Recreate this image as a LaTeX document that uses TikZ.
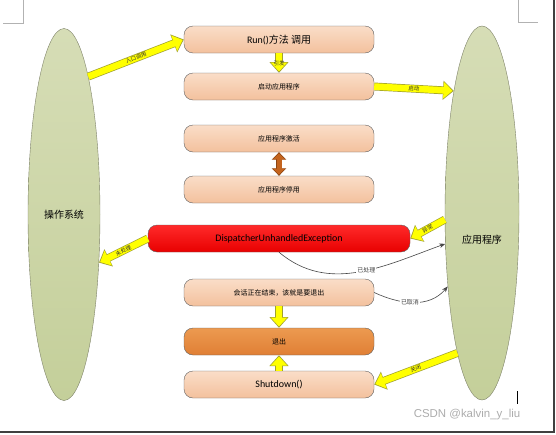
\documentclass[tikz,border=0pt]{standalone}
\usepackage{fontspec}
\setmainfont{Carlito}
\newfontfamily\cjk{Noto Sans CJK SC}
\newfontfamily\wmfont{Liberation Sans}
\usetikzlibrary{arrows.meta,shapes.geometric}
\definecolor{peachtop}{HTML}{FADDC8}
\definecolor{peachbot}{HTML}{F3C19D}
\definecolor{redtop}{HTML}{FF2A2A}
\definecolor{redbot}{HTML}{E80000}
\definecolor{exittop}{HTML}{EC9A50}
\definecolor{exitbot}{HTML}{E07F35}
\definecolor{ovaltop}{HTML}{D6DDB6}
\definecolor{ovalbot}{HTML}{C4CF9A}
\definecolor{ovaledge}{HTML}{7E8268}
\definecolor{flowedge}{HTML}{A0A030}
\definecolor{flowfill}{HTML}{FFFF00}
\definecolor{swapfill}{HTML}{C4641E}
\definecolor{swapedge}{HTML}{8A4412}
\tikzset{
  stage/.style={draw=gray!75!black, rounded corners=9bp, top color=peachtop, bottom color=peachbot,
    minimum width=190bp, minimum height=27bp, inner sep=0pt, font=\fontsize{7}{8}\selectfont\cjk},
  party/.style={ellipse, draw=ovaledge, top color=ovaltop, bottom color=ovalbot, inner sep=0pt,
    font=\fontsize{10}{12}\selectfont\cjk},
  flowarrow/.style={draw=flowfill, line width=6.5bp, shorten >=1.3bp, -{Triangle[length=9bp,width=16bp]},
    preaction={draw=flowedge, line width=7.9bp, shorten >=0bp, -{Triangle[length=10.8bp,width=18.6bp]}}},
  flowlabel/.style={midway, inner sep=0pt, text=black!80, font=\fontsize{5.5}{6}\selectfont\cjk},
  resultarrow/.style={draw=gray!55!black, line width=0.6bp, -{Stealth[length=6bp,width=4.5bp]}},
  resultlabel/.style={midway, fill=white, inner sep=1pt, text=black!75, font=\fontsize{6}{7}\selectfont\cjk}
}
\begin{document}
\begin{tikzpicture}
\useasboundingbox (0bp,0bp) rectangle (556bp,-435bp);

% page marks
\draw [gray!60, line width=0.8bp] (23bp,0bp) -- (23bp,-23bp) -- (3bp,-23bp);
\draw [gray!60, line width=0.8bp] (518bp,0bp) -- (518bp,-22bp) -- (538bp,-22bp);
\draw [black!75, line width=2bp] (0bp,-432bp) -- (554bp,-432bp) -- (554bp,0bp);
\draw [black, line width=1bp] (517bp,-391bp) -- (517bp,-404bp);

\node (OS) at (64bp,-214.5bp)[party, minimum width=72bp, minimum height=372bp] {操作系统};
\node (APP) at (482bp,-213bp)[party, minimum width=74bp, minimum height=374bp,
  label={[yshift=-27bp, font=\fontsize{10}{12}\selectfont\cjk]center:应用程序}] {};

\node (RUN) at (279bp,-39.5bp)[stage, font=\fontsize{10}{12}\selectfont] {Run(){\cjk 方法 调用}};
\node (START) at (279bp,-86.5bp)[stage] {启动应用程序};
\node (ACT) at (279bp,-138.5bp)[stage] {应用程序激活};
\node (DEACT) at (279bp,-189.5bp)[stage] {应用程序停用};
\node (DUE) at (279bp,-238.5bp)[stage, minimum width=262bp, top color=redtop, bottom color=redbot,
  font=\fontsize{10}{12}\selectfont] {DispatcherUnhandledException};
\node (SESS) at (279bp,-292.5bp)[stage] {会话正在结束，该就是要退出};
\node (EXIT) at (279bp,-341.5bp)[stage, top color=exittop, bottom color=exitbot] {退出};
\node (SHUT) at (279bp,-384.5bp)[stage, font=\fontsize{10}{12}\selectfont] {Shutdown()};

\draw [flowarrow] (OS.80) to node[flowlabel,sloped] {入口调用} (RUN.west);
\draw [flowarrow] (RUN.south) to node[flowlabel] {引发} (START.north);
\draw [flowarrow] (START.east) to node[flowlabel,sloped] {启动} (APP.103);
\draw [flowarrow] (APP.190) to node[flowlabel,sloped] {异常} (DUE.east);
\draw [flowarrow] (DUE.west) to node[flowlabel,sloped] {未处理} (OS.-54);
\draw [flowarrow] (SESS.south) to (EXIT.north);
\draw [flowarrow] (SHUT.north) to (EXIT.south);
\draw [flowarrow] (APP.260) to node[flowlabel,sloped] {关闭} (SHUT.east);

\draw [draw=swapfill, line width=5bp, shorten <=1.2bp, shorten >=1.2bp,
  {Triangle[length=6bp,width=12bp]}-{Triangle[length=6bp,width=12bp]},
  preaction={draw=swapedge, line width=6.2bp, shorten <=0bp, shorten >=0bp,
  {Triangle[length=7.5bp,width=14.2bp]}-{Triangle[length=7.5bp,width=14.2bp]}}]
  (ACT.south) to (DEACT.north);

\draw [resultarrow] (DUE.south) to[out=-40,in=200] node[resultlabel,pos=0.55] {已处理} (APP.220);
\draw [resultarrow] (SESS.east) to[out=-25,in=230] node[resultlabel,pos=0.45] {已取消} (APP.245);

\node (WM) at (467bp,-415bp)[text=gray!65, font=\fontsize{11.5}{13}\selectfont\wmfont] {CSDN @kalvin\_y\_liu};
\end{tikzpicture}
\end{document}
